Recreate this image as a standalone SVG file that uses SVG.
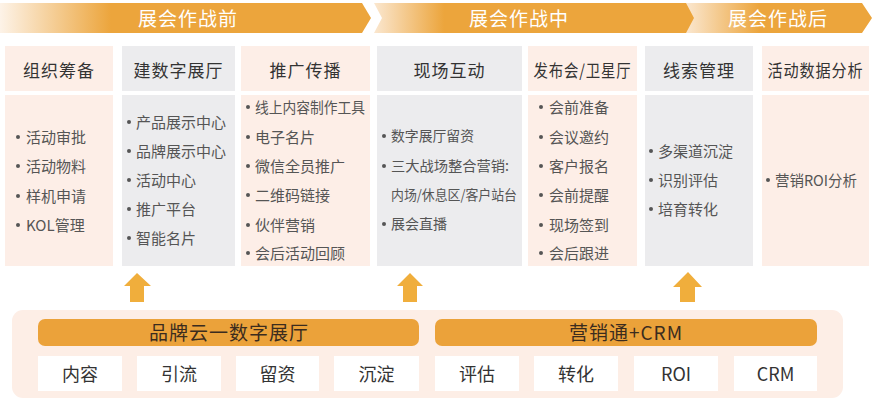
<svg xmlns="http://www.w3.org/2000/svg" width="876" height="400" viewBox="0 0 876 400">
<defs>
<linearGradient id="g1" x1="0" y1="0" x2="370" y2="0" gradientUnits="userSpaceOnUse">
<stop offset="0" stop-color="#fdf3e8"/><stop offset="0.3" stop-color="#eca53c"/><stop offset="1" stop-color="#eca53c"/>
</linearGradient>
<linearGradient id="g2" x1="372" y1="0" x2="700" y2="0" gradientUnits="userSpaceOnUse">
<stop offset="0" stop-color="#fbe9d4"/><stop offset="0.22" stop-color="#eca53c"/><stop offset="1" stop-color="#eca53c"/>
</linearGradient>
<linearGradient id="g3" x1="684" y1="0" x2="872" y2="0" gradientUnits="userSpaceOnUse">
<stop offset="0" stop-color="#fbe9d4"/><stop offset="0.4" stop-color="#eca53c"/><stop offset="1" stop-color="#eca53c"/>
</linearGradient>
</defs>
<style>
text{font-family:"Noto Sans CJK SC","Noto Sans",sans-serif;}
.ban{fill:#ffffff;font-size:19px;letter-spacing:1px;text-anchor:middle;dominant-baseline:central;}
.hdr{fill:#333333;font-size:17px;letter-spacing:1px;text-anchor:middle;dominant-baseline:central;}
.itm{fill:#555555;font-size:15px;dominant-baseline:central;}
.itm4{fill:#555555;font-size:14px;dominant-baseline:central;}
.pink{fill:#fdeee7;}
.grey{fill:#ececee;}
.dot{fill:#555555;}
.arr{fill:#f0ae3c;}
.bar{fill:#eba23a;}
.bartxt{fill:#3b2c1e;font-size:19px;letter-spacing:1px;text-anchor:middle;dominant-baseline:central;}
.wb{fill:#ffffff;}
.wt{fill:#333333;font-size:18px;text-anchor:middle;dominant-baseline:central;}
</style>
<rect width="876" height="400" fill="#ffffff"/>

<g id="phase-before">
<polygon points="0,3 362,3 371,18 362,33 0,33" fill="url(#g1)"/>
<text class="ban" x="188" y="17">展会作战前</text>
</g>
<g id="phase-during">
<polygon points="374,3 690,3 699,18 690,33 374,33 382,18" fill="url(#g2)"/>
<text class="ban" x="519" y="17">展会作战中</text>
</g>
<g id="phase-after">
<polygon points="686,3 862,3 872,18 862,33 686,33 694,18" fill="url(#g3)"/>
<text class="ban" x="778" y="17">展会作战后</text>
</g>

<g id="col-organize">
<rect class="pink" x="5" y="46" width="108" height="45"/>
<text class="hdr" x="59" y="69.5">组织筹备</text>
<rect class="pink" x="5" y="95" width="108" height="171"/>
<circle class="dot" cx="18" cy="137" r="2"/><text class="itm" x="26" y="136">活动审批</text>
<circle class="dot" cx="18" cy="166" r="2"/><text class="itm" x="26" y="165">活动物料</text>
<circle class="dot" cx="18" cy="196" r="2"/><text class="itm" x="26" y="195">样机申请</text>
<circle class="dot" cx="18" cy="225" r="2"/><text class="itm" x="26" y="224">KOL管理</text>
</g>

<g id="col-digital-hall">
<rect class="grey" x="122" y="46" width="113" height="45"/>
<text class="hdr" x="178.5" y="69.5">建数字展厅</text>
<rect class="grey" x="122" y="95" width="113" height="171"/>
<circle class="dot" cx="129" cy="122" r="2"/><text class="itm" x="136" y="121">产品展示中心</text>
<circle class="dot" cx="129" cy="151" r="2"/><text class="itm" x="136" y="150">品牌展示中心</text>
<circle class="dot" cx="129" cy="180" r="2"/><text class="itm" x="136" y="179">活动中心</text>
<circle class="dot" cx="129" cy="209" r="2"/><text class="itm" x="136" y="208">推广平台</text>
<circle class="dot" cx="129" cy="238" r="2"/><text class="itm" x="136" y="237">智能名片</text>
</g>

<g id="col-promotion">
<rect class="pink" x="241" y="46" width="129" height="45"/>
<text class="hdr" x="305.5" y="69.5">推广传播</text>
<rect class="pink" x="241" y="95" width="129" height="171"/>
<circle class="dot" cx="248" cy="107" r="2"/><text class="itm" x="255" y="106" textLength="110" lengthAdjust="spacingAndGlyphs">线上内容制作工具</text>
<circle class="dot" cx="248" cy="137" r="2"/><text class="itm" x="255" y="136">电子名片</text>
<circle class="dot" cx="248" cy="166" r="2"/><text class="itm" x="255" y="165">微信全员推广</text>
<circle class="dot" cx="248" cy="195" r="2"/><text class="itm" x="255" y="194">二维码链接</text>
<circle class="dot" cx="248" cy="225" r="2"/><text class="itm" x="255" y="224">伙伴营销</text>
<circle class="dot" cx="248" cy="253" r="2"/><text class="itm" x="255" y="252">会后活动回顾</text>
</g>

<g id="col-onsite">
<rect class="grey" x="377" y="46" width="145" height="45"/>
<text class="hdr" x="449.5" y="69.5">现场互动</text>
<rect class="grey" x="377" y="95" width="145" height="171"/>
<circle class="dot" cx="384" cy="136" r="2"/><text class="itm4" x="391" y="135" textLength="83" lengthAdjust="spacingAndGlyphs">数字展厅留资</text>
<circle class="dot" cx="384" cy="166" r="2"/><text class="itm4" x="391" y="165" textLength="118" lengthAdjust="spacingAndGlyphs">三大战场整合营销:</text>
<text class="itm4" x="391" y="194" textLength="126" lengthAdjust="spacingAndGlyphs">内场/休息区/客户站台</text>
<circle class="dot" cx="384" cy="224" r="2"/><text class="itm4" x="391" y="223" textLength="56" lengthAdjust="spacingAndGlyphs">展会直播</text>
</g>

<g id="col-launch">
<rect class="pink" x="528" y="46" width="109" height="45"/>
<text class="hdr" x="582.5" y="69.5" textLength="98" lengthAdjust="spacingAndGlyphs">发布会/卫星厅</text>
<rect class="pink" x="528" y="95" width="109" height="171"/>
<circle class="dot" cx="541" cy="107" r="2"/><text class="itm" x="549" y="106">会前准备</text>
<circle class="dot" cx="541" cy="137" r="2"/><text class="itm" x="549" y="136">会议邀约</text>
<circle class="dot" cx="541" cy="166" r="2"/><text class="itm" x="549" y="165">客户报名</text>
<circle class="dot" cx="541" cy="195" r="2"/><text class="itm" x="549" y="194">会前提醒</text>
<circle class="dot" cx="541" cy="225" r="2"/><text class="itm" x="549" y="224">现场签到</text>
<circle class="dot" cx="541" cy="253" r="2"/><text class="itm" x="549" y="252">会后跟进</text>
</g>

<g id="col-leads">
<rect class="grey" x="645" y="46" width="108" height="45"/>
<text class="hdr" x="699" y="69.5">线索管理</text>
<rect class="grey" x="645" y="95" width="108" height="171"/>
<circle class="dot" cx="651" cy="151" r="2"/><text class="itm" x="658" y="150">多渠道沉淀</text>
<circle class="dot" cx="651" cy="180" r="2"/><text class="itm" x="658" y="179">识别评估</text>
<circle class="dot" cx="651" cy="209" r="2"/><text class="itm" x="658" y="208">培育转化</text>
</g>

<g id="col-analytics">
<rect class="pink" x="762" y="46" width="107" height="45"/>
<text class="hdr" x="815.5" y="69.5" textLength="96" lengthAdjust="spacingAndGlyphs">活动数据分析</text>
<rect class="pink" x="762" y="95" width="107" height="171"/>
<circle class="dot" cx="768" cy="180" r="2"/><text class="itm" x="775" y="179" textLength="82" lengthAdjust="spacingAndGlyphs">营销ROI分析</text>
</g>

<g id="connectors">
<polygon class="arr" points="137,273 151,286 144,286 144,302 130,302 130,286 124,286"/>
<polygon class="arr" points="410,273 423,286 417,286 417,302 403,302 403,286 397,286"/>
<polygon class="arr" points="688,272 702,287 695,287 695,302 680,302 680,287 673,287"/>
</g>

<g id="platform">
<rect x="12" y="310" width="831" height="88" rx="11" fill="#fdeee6"/>
</g>

<g id="brand-cloud">
<rect class="bar" x="38" y="319" width="381" height="27" rx="7"/>
<text class="bartxt" x="229" y="331.5">品牌云一数字展厅</text>
<rect class="wb" x="38" y="356" width="84" height="35"/><text class="wt" x="80" y="372.5">内容</text>
<rect class="wb" x="137" y="356" width="84" height="35"/><text class="wt" x="179" y="372.5">引流</text>
<rect class="wb" x="236" y="356" width="83" height="35"/><text class="wt" x="277.5" y="372.5">留资</text>
<rect class="wb" x="334" y="356" width="85" height="35"/><text class="wt" x="376.5" y="372.5">沉淀</text>
</g>

<g id="marketing-crm">
<rect class="bar" x="435" y="319" width="382" height="27" rx="7"/>
<text class="bartxt" x="626" y="331.5">营销通+CRM</text>
<rect class="wb" x="435" y="356" width="84" height="35"/><text class="wt" x="477" y="372.5">评估</text>
<rect class="wb" x="534" y="356" width="84" height="35"/><text class="wt" x="576" y="372.5">转化</text>
<rect class="wb" x="634" y="356" width="84" height="35"/><text class="wt" x="676" y="372.5">ROI</text>
<rect class="wb" x="734" y="356" width="83" height="35"/><text class="wt" x="775.5" y="372.5">CRM</text>
</g>
</svg>
